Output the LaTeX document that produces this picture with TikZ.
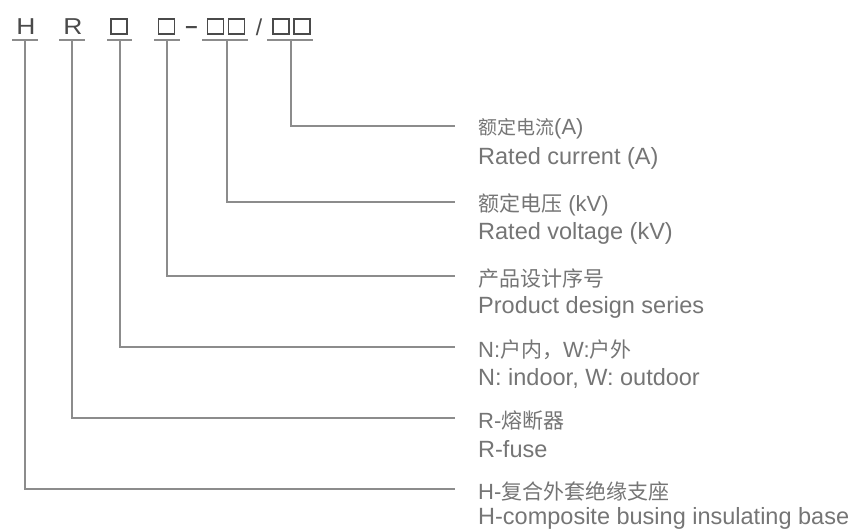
\documentclass[tikz,border=0pt]{standalone}
\usepackage{fontspec}
\setmainfont{Liberation Sans}
\newfontfamily\cjk{Noto Sans CJK SC}
\definecolor{linegray}{HTML}{8C8C8C}
\definecolor{textgray}{HTML}{757575}
\definecolor{codegray}{HTML}{4A4A4A}
\newcommand{\zh}[2][21]{{\cjk\fontsize{#1}{#1}\selectfont #2}}
\begin{document}
\begin{tikzpicture}[x=1pt,y=-1pt,
  conn/.style={draw=linegray,line width=1.3pt},
  uline/.style={draw=linegray,line width=1.3pt},
  code/.style={text=codegray,font=\fontsize{23}{24}\selectfont,inner sep=0pt},
  sqbox/.style={draw=codegray,line width=1.2pt,minimum width=16pt,minimum height=15pt,inner sep=0pt},
  zhlabel/.style={anchor=west,inner sep=0pt,text=textgray,font=\fontsize{22}{24}\selectfont},
  enlabel/.style={anchor=west,inner sep=0pt,text=textgray,font=\fontsize{23.5}{26}\selectfont}]
\useasboundingbox (0,0) rectangle (851,530);

% code row
\node[code,xscale=1.15] (cH) at (26,27) {H};
\node[code,xscale=1.15] (cR) at (73,27) {R};
\node[sqbox] (b1) at (119,26.5) {};
\node[sqbox] (b2) at (166.5,26.5) {};
\node[code,font=\bfseries\fontsize{22}{22}\selectfont,anchor=base] (dash) at (191.5,33) {–};
\node[sqbox] (b3a) at (215.5,26.5) {};
\node[sqbox] (b3b) at (236.5,26.5) {};
\node[code] (slash) at (259,27) {/};
\node[sqbox] (b4a) at (281,26.5) {};
\node[sqbox] (b4b) at (302,26.5) {};

% underlines
\draw[uline] (12,40) -- (38,40);
\draw[uline] (59,40) -- (85,40);
\draw[uline] (107,40) -- (132,40);
\draw[uline] (154,40) -- (180,40);
\draw[uline] (202,40) -- (248,40);
\draw[uline] (267,40) -- (313,40);

\coordinate (uH) at (25,40);
\coordinate (uR) at (72,40);
\coordinate (u1) at (120,40);
\coordinate (u2) at (167,40);
\coordinate (u3) at (227,40);
\coordinate (u4) at (291,40);

\coordinate (e4) at (455,126);
\coordinate (e3) at (455,202);
\coordinate (e2) at (455,276);
\coordinate (e1) at (455,347);
\coordinate (eR) at (455,418);
\coordinate (eH) at (455,489);

% connectors
\draw[conn] (u4) |- (e4);
\draw[conn] (u3) |- (e3);
\draw[conn] (u2) |- (e2);
\draw[conn] (u1) |- (e1);
\draw[conn] (uR) |- (eR);
\draw[conn] (uH) |- (eH);

% labels
\node[zhlabel] (z4) at (478,129) {\zh[19]{额定电流}(A)};
\node[enlabel] (t4) at (478,158) {Rated current (A)};
\node[zhlabel] (z3) at (478,205) {\zh{额定电压} (kV)};
\node[enlabel] (t3) at (478,233) {Rated voltage (kV)};
\node[zhlabel] (z2) at (478,279) {\zh{产品设计序号}};
\node[enlabel] (t2) at (478,307) {Product design series};
\node[zhlabel] (z1) at (478,350) {N:\zh{户内，}W:\zh{户外}};
\node[enlabel] (t1) at (478,378) {N: indoor, W: outdoor};
\node[zhlabel] (zR) at (478,421) {R-\zh{熔断器}};
\node[enlabel] (tR) at (478,449) {R-fuse};
\node[zhlabel] (zH) at (478,491) {H-\zh{复合外套绝缘支座}};
\node[enlabel] (tH) at (478,518) {H-composite busing insulating base};
\end{tikzpicture}
\end{document}
